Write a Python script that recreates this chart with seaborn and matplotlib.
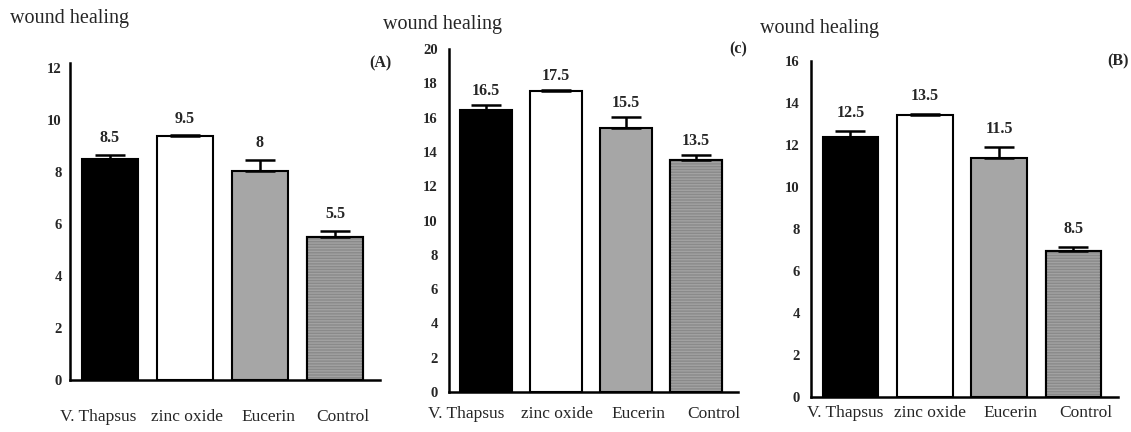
import matplotlib
matplotlib.use('Agg')
import matplotlib.pyplot as plt
from matplotlib.transforms import ScaledTranslation
import seaborn as sns

# data
groups = ['V. Thapsus', 'zinc oxide', 'Eucerin', 'Control']

means_a = [8.5, 9.38, 8.03, 5.5]
err_a = [0.15, 0.03, 0.43, 0.23]
labels_a = ['8.5', '9.5', '8', '5.5']

means_c = [16.45, 17.55, 15.4, 13.5]
err_c = [0.3, 0.05, 0.65, 0.3]
labels_c = ['16.5', '17.5', '15.5', '13.5']

means_b = [12.4, 13.45, 11.4, 6.95]
err_b = [0.25, 0.04, 0.5, 0.2]
labels_b = ['12.5', '13.5', '11.5', '8.5']

colors = ['#000000', '#ffffff', '#a6a6a6', '#8a8a8a']

sns.set_style('white')
plt.rcParams['font.family'] = ['Liberation Serif', 'DejaVu Serif']

W, H = 1131, 432
fig = plt.figure(figsize=(W / 100, H / 100), dpi=100)


def px_axes(left, bottom, right, top):
    return fig.add_axes([left / W, 1 - bottom / H, (right - left) / W, (bottom - top) / H])


def panel(ax, means, errs, labels, ymax, yticks, tag, xpad, ypad, lab_off, shifts):
    sns.barplot(x=groups, y=means, hue=groups, palette=colors, legend=False,
                edgecolor='black', linewidth=1.5, width=0.75, errorbar=None, ax=ax)
    # horizontal line texture on the control bar
    ax.bar([3], [means[3]], width=0.75, fill=False, edgecolor='#a2a2a2',
           hatch='------', linewidth=0)
    ax.bar([3], [means[3]], width=0.75, fill=False, edgecolor='black', linewidth=1.5)
    ax.errorbar(range(4), means, yerr=[[0] * 4, errs], fmt='none', ecolor='black',
                elinewidth=1.8, capsize=11, capthick=1.8)
    for i, (m, e, t) in enumerate(zip(means, errs, labels)):
        ax.annotate(t, (i, m + e), xytext=(0, lab_off), textcoords='offset points',
                    ha='center', va='center', fontsize=11.5, fontweight='bold')
    ax.set_ylim(0, ymax)
    ax.set_xlim(-0.53, 3.6)
    ax.set_yticks(yticks)
    ax.set_ylabel('')
    ax.tick_params(axis='x', length=0, pad=xpad, labelsize=12.5)
    ax.tick_params(axis='y', length=0, pad=ypad, labelsize=10.5)
    for lab in ax.get_yticklabels():
        lab.set_fontweight('bold')
    # labels in the original sit a little off the bar centres
    for lab, dx in zip(ax.get_xticklabels(), shifts):
        lab.set_transform(lab.get_transform() + ScaledTranslation(dx / 100, 0, fig.dpi_scale_trans))
    sns.despine(ax=ax)
    for s in ['left', 'bottom']:
        ax.spines[s].set_linewidth(1.8)
        ax.spines[s].set_color('black')
    ax.text(1.0, 1.0, tag, transform=ax.transAxes, ha='center', va='center',
            fontsize=11.5, fontweight='bold')


ax1 = px_axes(70, 380, 380, 63)
panel(ax1, means_a, err_a, labels_a, 12.19, range(0, 13, 2), '(A)', 21, 6, 12,
      [-12, 2, 9, 8])

ax2 = px_axes(449, 392, 738, 49)
panel(ax2, means_c, err_c, labels_c, 20.0, range(0, 21, 2), '(c)', 10, 8, 10,
      [-20, 1, 12, 18])

ax3 = px_axes(811, 397, 1118, 61)
panel(ax3, means_b, err_b, labels_b, 16.0, range(0, 17, 2), '(B)', 6, 8, 13,
      [-5, 5, 11, 12])

fig.text(10 / W, 1 - 18 / H, 'wound healing', fontsize=14.5, va='center', ha='left')
fig.text(383 / W, 1 - 25 / H, 'wound healing', fontsize=14.5, va='center', ha='left')
fig.text(760 / W, 1 - 28 / H, 'wound healing', fontsize=14.5, va='center', ha='left')

fig.savefig('out.png', dpi=100)
